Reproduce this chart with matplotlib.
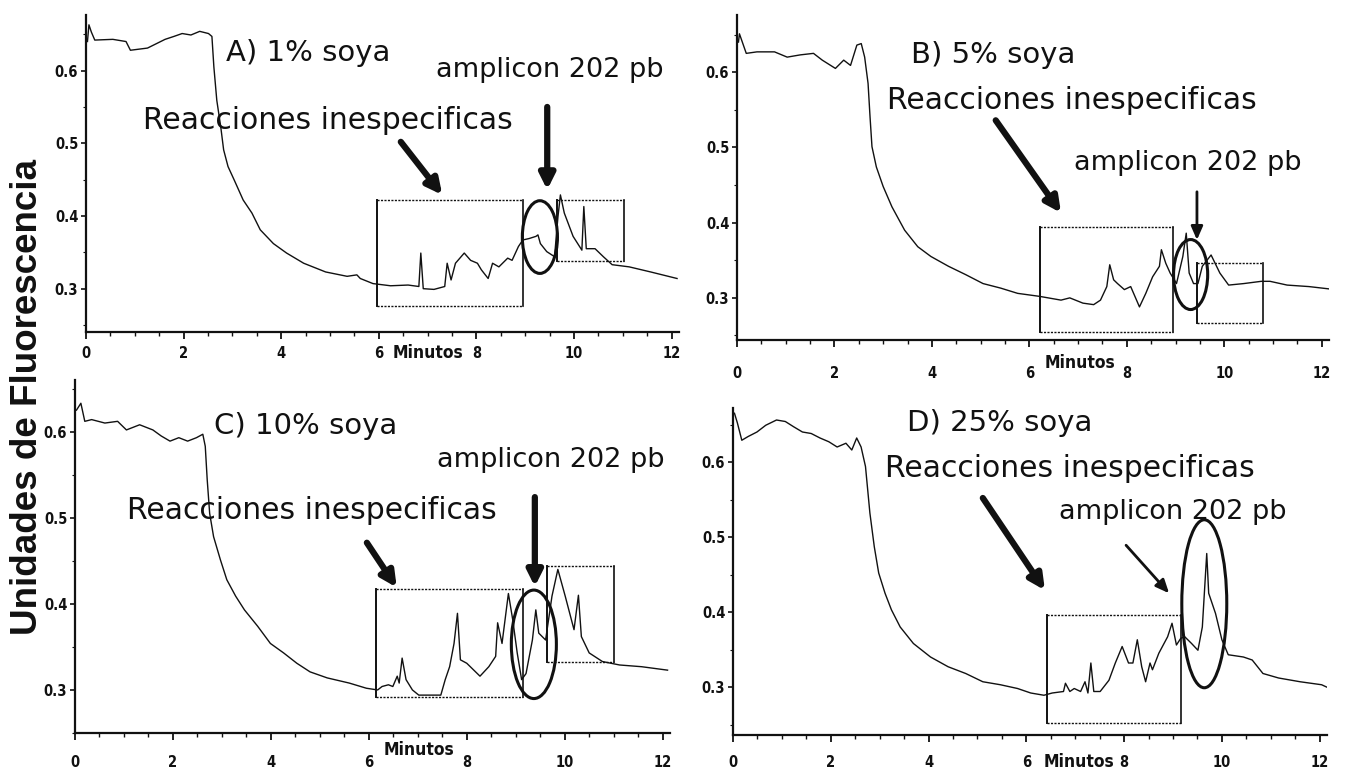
import matplotlib
matplotlib.use("Agg")
import matplotlib.pyplot as plt
from matplotlib.patches import Ellipse
from matplotlib.ticker import MultipleLocator

W, H = 1348, 779

# ---------------- data (minutes, fluorescence units) ----------------
t_A = [0.03, 0.06, 0.11, 0.18, 0.55, 0.82, 0.91, 1.26, 1.44, 1.62, 1.80, 1.97, 2.15, 2.33, 2.51, 2.58,
       2.62, 2.68, 2.76, 2.82, 2.91, 3.04, 3.22, 3.40, 3.57, 3.84, 4.11, 4.46, 4.91, 5.35, 5.55, 5.62,
       5.88, 6.24, 6.60, 6.82, 6.86, 6.91, 7.13, 7.35, 7.40, 7.48, 7.57, 7.75, 7.88, 8.02, 8.10, 8.24,
       8.33, 8.46, 8.64, 8.73, 8.86, 8.95, 9.08, 9.22, 9.26, 9.31, 9.44, 9.60, 9.67, 9.72, 9.80, 9.98,
       10.16, 10.20, 10.25, 10.43, 10.60, 10.78, 11.13, 11.57, 12.11]
v_A = [0.640, 0.663, 0.653, 0.642, 0.643, 0.640, 0.628, 0.631, 0.637, 0.643, 0.647, 0.651, 0.649, 0.654, 0.651, 0.647,
       0.605, 0.559, 0.523, 0.491, 0.468, 0.449, 0.422, 0.404, 0.381, 0.362, 0.349, 0.335, 0.323, 0.317, 0.319, 0.314,
       0.307, 0.304, 0.305, 0.303, 0.349, 0.300, 0.299, 0.303, 0.335, 0.312, 0.335, 0.349, 0.339, 0.335, 0.326, 0.314,
       0.335, 0.330, 0.342, 0.339, 0.358, 0.367, 0.369, 0.372, 0.374, 0.362, 0.351, 0.344, 0.399, 0.429, 0.404, 0.372,
       0.353, 0.413, 0.355, 0.355, 0.344, 0.333, 0.330, 0.323, 0.314]

t_B = [0.03, 0.05, 0.19, 0.41, 0.77, 1.03, 1.30, 1.57, 1.75, 2.02, 2.19, 2.33, 2.46, 2.55, 2.62, 2.69,
       2.73, 2.77, 2.86, 3.00, 3.18, 3.44, 3.71, 3.98, 4.34, 4.69, 5.05, 5.41, 5.76, 6.21, 6.65, 6.83,
       7.10, 7.32, 7.46, 7.59, 7.65, 7.73, 7.81, 7.95, 8.08, 8.26, 8.39, 8.53, 8.67, 8.71, 8.80, 8.89,
       9.02, 9.15, 9.22, 9.28, 9.37, 9.46, 9.55, 9.73, 9.91, 10.09, 10.40, 10.76, 10.94, 11.29, 11.74, 12.14]
v_B = [0.640, 0.651, 0.625, 0.627, 0.627, 0.620, 0.623, 0.625, 0.616, 0.605, 0.616, 0.609, 0.636, 0.638, 0.620, 0.585,
       0.541, 0.501, 0.474, 0.448, 0.421, 0.390, 0.368, 0.355, 0.342, 0.331, 0.319, 0.313, 0.306, 0.302, 0.297, 0.300,
       0.293, 0.291, 0.297, 0.315, 0.344, 0.324, 0.319, 0.311, 0.315, 0.288, 0.306, 0.328, 0.342, 0.364, 0.346, 0.333,
       0.319, 0.355, 0.386, 0.333, 0.319, 0.319, 0.342, 0.357, 0.333, 0.317, 0.319, 0.322, 0.322, 0.317, 0.315, 0.312]

t_C = [0.03, 0.12, 0.20, 0.34, 0.61, 0.87, 1.05, 1.32, 1.59, 1.76, 1.94, 2.12, 2.30, 2.48, 2.61, 2.66,
       2.70, 2.75, 2.83, 2.97, 3.10, 3.28, 3.46, 3.73, 3.99, 4.26, 4.53, 4.80, 5.15, 5.60, 5.95, 6.18,
       6.27, 6.40, 6.49, 6.58, 6.62, 6.68, 6.76, 6.89, 7.02, 7.47, 7.56, 7.65, 7.74, 7.81, 7.87, 8.00,
       8.27, 8.45, 8.59, 8.63, 8.72, 8.85, 8.94, 9.03, 9.12, 9.21, 9.34, 9.41, 9.47, 9.61, 9.74, 9.86,
       10.01, 10.19, 10.28, 10.34, 10.50, 10.77, 11.12, 11.57, 12.10]
v_C = [0.625, 0.633, 0.612, 0.614, 0.610, 0.612, 0.602, 0.608, 0.602, 0.595, 0.589, 0.593, 0.589, 0.593, 0.597, 0.583,
       0.544, 0.505, 0.478, 0.451, 0.428, 0.409, 0.393, 0.374, 0.354, 0.343, 0.331, 0.321, 0.314, 0.308, 0.302, 0.300,
       0.304, 0.306, 0.304, 0.316, 0.308, 0.337, 0.312, 0.300, 0.294, 0.294, 0.312, 0.327, 0.354, 0.389, 0.335, 0.331,
       0.316, 0.327, 0.339, 0.378, 0.354, 0.412, 0.381, 0.343, 0.312, 0.319, 0.358, 0.393, 0.366, 0.358, 0.409, 0.440,
       0.409, 0.370, 0.410, 0.362, 0.343, 0.333, 0.329, 0.327, 0.323]

t_D = [0.03, 0.09, 0.18, 0.31, 0.49, 0.67, 0.89, 1.07, 1.24, 1.42, 1.60, 1.78, 1.96, 2.13, 2.31, 2.43,
       2.53, 2.62, 2.71, 2.80, 2.89, 2.98, 3.11, 3.24, 3.42, 3.69, 4.04, 4.40, 4.76, 5.11, 5.47, 5.82,
       6.09, 6.36, 6.53, 6.76, 6.80, 6.89, 6.98, 7.11, 7.20, 7.26, 7.32, 7.38, 7.51, 7.69, 7.82, 7.96,
       8.09, 8.18, 8.27, 8.36, 8.44, 8.53, 8.58, 8.71, 8.89, 8.98, 9.07, 9.16, 9.24, 9.38, 9.51, 9.60,
       9.69, 9.73, 9.87, 10.00, 10.13, 10.44, 10.62, 10.84, 11.16, 11.60, 12.04, 12.14]
v_D = [0.665, 0.652, 0.629, 0.634, 0.640, 0.649, 0.656, 0.654, 0.647, 0.640, 0.638, 0.632, 0.627, 0.620, 0.625, 0.616,
       0.632, 0.620, 0.594, 0.532, 0.487, 0.452, 0.425, 0.403, 0.380, 0.358, 0.340, 0.327, 0.318, 0.307, 0.303, 0.298,
       0.292, 0.289, 0.292, 0.294, 0.305, 0.294, 0.298, 0.294, 0.307, 0.292, 0.332, 0.294, 0.294, 0.309, 0.332, 0.354,
       0.332, 0.332, 0.363, 0.327, 0.307, 0.332, 0.323, 0.345, 0.367, 0.385, 0.356, 0.365, 0.367, 0.358, 0.349, 0.380,
       0.478, 0.425, 0.398, 0.363, 0.343, 0.340, 0.336, 0.318, 0.312, 0.307, 0.303, 0.300]

x_ticks = [0, 2, 4, 6, 8, 10, 12]
x_tick_labels = ["0", "2", "4", "6", "8", "10", "12"]
y_ticks = [0.3, 0.4, 0.5, 0.6]
y_tick_labels = ["0.3", "0.4", "0.5", "0.6"]

titles = ["A) 1% soya", "B) 5% soya", "C) 10% soya", "D) 25% soya"]
txt_reac = "Reacciones inespecificas"
txt_amp = "amplicon 202 pb"
txt_min = "Minutos"
y_label = "Unidades de Fluorescencia"

# ---------------- layout (pixels) ----------------
panels = [
    dict(t=t_A, v=v_A, px=(86, 679, 15, 332), ylim=(0.2404, 0.6765), xpad=5.0, minoff=-15),
    dict(t=t_B, v=v_B, px=(737, 1329, 15, 340), ylim=(0.244, 0.676), xpad=13.5, minoff=-16.5),
    dict(t=t_C, v=v_C, px=(75, 670, 380, 733), ylim=(0.250, 0.660), xpad=11.0, minoff=-12.5),
    dict(t=t_D, v=v_D, px=(733, 1327, 408, 735), ylim=(0.236, 0.672), xpad=9.5, minoff=-19.5),
]

# annotation geometry in data units
title_pos = [(2.87, 0.624), (3.57, 0.623), (2.84, 0.606), (3.56, 0.652)]
reac_pos = [(1.17, 0.532), (3.08, 0.563), (1.06, 0.509), (3.11, 0.592)]
amp_pos = [(7.17, 0.601), (6.91, 0.479), (7.39, 0.567), (6.67, 0.533)]
arrow_reac = [((6.45, 0.502), (7.30, 0.429)), ((5.31, 0.536), (6.65, 0.413)),
              ((5.96, 0.471), (6.57, 0.419)), ((5.11, 0.552), (6.38, 0.429))]
arrow_amp = [((9.45, 0.550), (9.45, 0.436)), ((9.44, 0.441), (9.44, 0.377)),
             ((9.39, 0.524), (9.39, 0.420)), ((8.04, 0.489), (8.92, 0.425))]
arrow_amp_thick = [True, False, True, False]
rect1 = [(5.96, 8.95, 0.276, 0.422), (6.22, 8.94, 0.254, 0.394),
         (6.14, 9.14, 0.292, 0.417), (6.42, 9.16, 0.252, 0.396)]
rect2 = [(9.65, 11.03, 0.338, 0.422), (9.44, 10.79, 0.267, 0.346),
         (9.63, 11.00, 0.333, 0.444), None]
ellipses = [(9.30, 0.371, 0.72, 0.100), (9.31, 0.331, 0.70, 0.093),
            (9.37, 0.353, 0.92, 0.126), (9.64, 0.411, 0.92, 0.224)]
minutos_x = [7.0, 7.04, 7.02, 7.08]

INK = "#111111"
tick_font = dict(family="DejaVu Sans", weight="bold", stretch="condensed", size=10.5)

fig = plt.figure(figsize=(W / 100, H / 100), dpi=100)
fig.patch.set_facecolor("white")

for i, p in enumerate(panels):
    l, r, tp, b = p["px"]
    ax = fig.add_axes([l / W, 1 - b / H, (r - l) / W, (b - tp) / H])
    ax.set_facecolor("none")
    ax.plot(p["t"], p["v"], color=INK, lw=1.0)
    ax.set_xlim(0, 12.15)
    ax.set_ylim(*p["ylim"])
    for s in ["top", "right"]:
        ax.spines[s].set_visible(False)
    for s in ["left", "bottom"]:
        ax.spines[s].set_linewidth(1.6)
        ax.spines[s].set_color(INK)
    ax.set_xticks(x_ticks)
    ax.set_xticklabels(x_tick_labels, fontdict=tick_font)
    ax.set_yticks(y_ticks)
    ax.set_yticklabels(y_tick_labels, fontdict=tick_font)
    ax.xaxis.set_minor_locator(MultipleLocator(0.5))
    ax.yaxis.set_minor_locator(MultipleLocator(0.05))
    ax.tick_params(axis="x", which="major", length=5, width=1.3, pad=p["xpad"], colors=INK)
    ax.tick_params(axis="x", which="minor", length=3, width=1.0, colors=INK)
    ax.tick_params(axis="y", which="major", length=3.5, width=1.2, pad=2, colors=INK)
    ax.tick_params(axis="y", which="minor", length=2, width=0.8, colors=INK)

    ax.annotate(txt_min, xy=(minutos_x[i], 0), xycoords=("data", "axes fraction"),
                xytext=(0, p["minoff"]), textcoords="offset points", ha="center", va="center",
                family="DejaVu Sans", weight="bold", stretch="condensed", size=12.5, color=INK)

    tx, ty = title_pos[i]
    ax.text(tx, ty, titles[i], fontsize=21, color=INK, ha="left", va="center", family="DejaVu Sans")
    rx, ry = reac_pos[i]
    ax.text(rx, ry, txt_reac, fontsize=21.5, color=INK, ha="left", va="center", family="DejaVu Sans")
    axx, axy = amp_pos[i]
    ax.text(axx, axy, txt_amp, fontsize=19.5, color=INK, ha="left", va="center", family="DejaVu Sans")

    (x0, y0), (x1, y1) = arrow_reac[i]
    ax.annotate("", xy=(x1, y1), xytext=(x0, y0),
                arrowprops=dict(arrowstyle="-|>,head_length=0.9,head_width=0.45", lw=4.5, color=INK,
                                shrinkA=0, shrinkB=0))
    (x0, y0), (x1, y1) = arrow_amp[i]
    if arrow_amp_thick[i]:
        ax.annotate("", xy=(x1, y1), xytext=(x0, y0),
                    arrowprops=dict(arrowstyle="-|>,head_length=0.9,head_width=0.45", lw=4.5, color=INK,
                                    shrinkA=0, shrinkB=0))
    else:
        ax.annotate("", xy=(x1, y1), xytext=(x0, y0),
                    arrowprops=dict(arrowstyle="-|>,head_length=0.8,head_width=0.35", lw=2.0, color=INK,
                                    shrinkA=0, shrinkB=0))

    for rc in (rect1[i], rect2[i]):
        if rc is None:
            continue
        xa, xb, ya, yb = rc
        ax.plot([xa, xa], [ya, yb], color=INK, lw=1.4)
        ax.plot([xb, xb], [ya, yb], color=INK, lw=1.2)
        ax.plot([xa, xb], [ya, ya], color=INK, lw=1.0, ls=(0, (1.5, 1.0)))
        ax.plot([xa, xb], [yb, yb], color=INK, lw=1.0, ls=(0, (1.5, 1.0)))

    ex, ey, ew, eh = ellipses[i]
    ax.add_patch(Ellipse((ex, ey), ew, eh, fill=False, lw=2.2, edgecolor=INK))

fig.text(28 / W, 1 - 397 / H, y_label, rotation=90, ha="center", va="center",
         family="Liberation Sans", weight="bold", size=26.5, color=INK)

fig.savefig("out.png", dpi=100, facecolor="white")
